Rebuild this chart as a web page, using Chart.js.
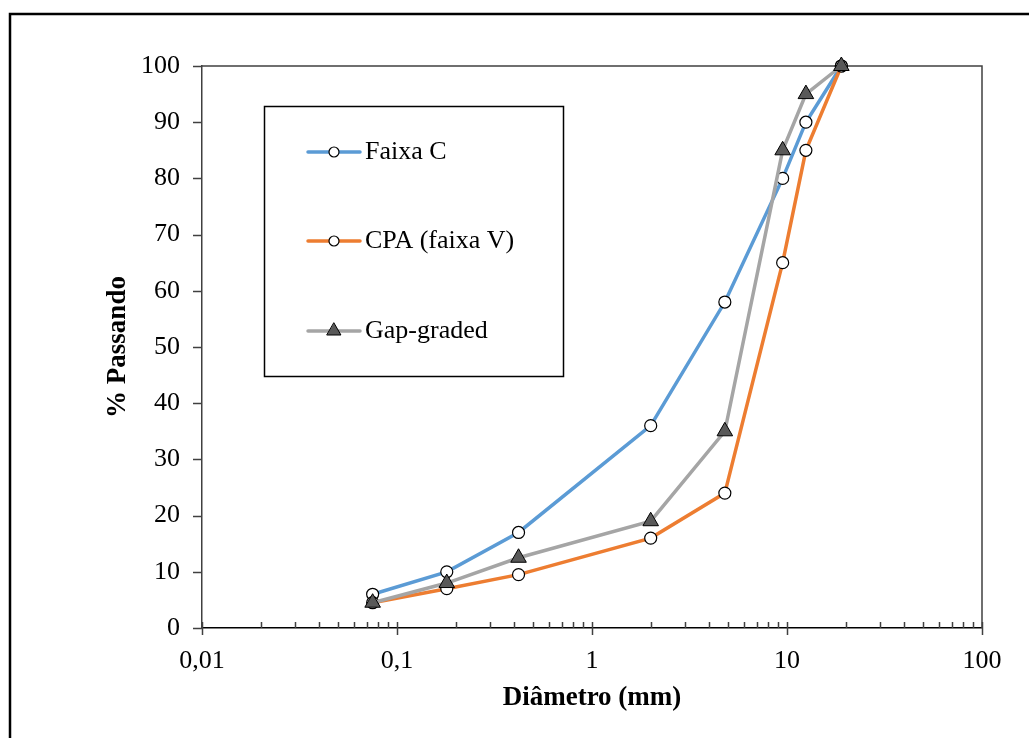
<!DOCTYPE html>
<html>
<head>
<meta charset="utf-8">
<script src="https://cdn.jsdelivr.net/npm/chart.js@4.4.0/dist/chart.umd.min.js"></script>
<style>
  body { margin: 0; background: #fff; }
  #wrap { width: 1029px; height: 738px; }
</style>
</head>
<body>
<div id="wrap"><canvas id="curva" width="1029" height="738"></canvas></div>
<script>
// sieve openings (mm) and % passing
const sieveSizes = [0.075, 0.18, 0.42, 2.0, 4.8, 9.5, 12.5, 19];
const faixaC = [6, 10, 17, 36, 58, 80, 90, 100];
const cpaFaixaV = [4.5, 7, 9.5, 16, 24, 65, 85, 100];
const gapGraded = [4.5, 8, 12.5, 19, 35, 85, 95, 100];

const seriesNames = ['Faixa C', 'CPA (faixa V)', 'Gap-graded'];
const xTickValues = [0.01, 0.1, 1, 10, 100];
const xTickLabels = ['0,01', '0,1', '1', '10', '100'];
const yTickValues = [0, 10, 20, 30, 40, 50, 60, 70, 80, 90, 100];

const serif = '"Liberation Serif", "Times New Roman", serif';

function pts(vals) {
	return sieveSizes.map((s, i) => ({ x: s, y: vals[i] }));
}

// axis frame, tick marks and the boxed legend
const frame = {
	id: 'frame',
	beforeDatasetsDraw(chart) {
		const ctx = chart.ctx, a = chart.chartArea;
		const x = chart.scales.x, y = chart.scales.y;
		ctx.save();
		ctx.strokeStyle = '#404040';
		ctx.lineWidth = 1.5;
		ctx.beginPath();
		ctx.moveTo(a.left, a.top);
		ctx.lineTo(a.right, a.top);
		ctx.lineTo(a.right, a.bottom);
		ctx.stroke();

		ctx.beginPath();
		yTickValues.forEach(v => {
			const py = Math.round(y.getPixelForValue(v)) + 0.5;
			ctx.moveTo(a.left - 9, py);
			ctx.lineTo(a.left, py);
		});
		xTickValues.forEach((v, i) => {
			const px = Math.round(x.getPixelForValue(v)) + 0.5;
			ctx.moveTo(px, a.bottom - 6);
			ctx.lineTo(px, a.bottom + 7);
			if (i < xTickValues.length - 1) {
				for (let m = 2; m <= 9; m++) {
					const mx = Math.round(x.getPixelForValue(v * m)) + 0.5;
					ctx.moveTo(mx, a.bottom - 6);
					ctx.lineTo(mx, a.bottom);
				}
			}
		});
		ctx.stroke();
		ctx.restore();
	},
	afterDraw(chart) {
		const ctx = chart.ctx;
		ctx.save();
		// outer chart border
		ctx.strokeStyle = '#000';
		ctx.lineWidth = 2.5;
		ctx.strokeRect(10, 14, 1100, 1000);

		// legend box
		ctx.lineWidth = 1.5;
		ctx.strokeRect(264.5, 106.5, 299, 270);
		const rows = [152, 241, 331];
		ctx.font = '26px ' + serif;
		ctx.textBaseline = 'middle';
		chart.data.datasets.forEach((ds, i) => {
			const ry = rows[i];
			ctx.strokeStyle = ds.borderColor;
			ctx.lineWidth = ds.borderWidth;
			ctx.lineCap = 'round';
			ctx.beginPath();
			ctx.moveTo(308, ry);
			ctx.lineTo(360, ry);
			ctx.stroke();

			ctx.fillStyle = ds.pointBackgroundColor;
			ctx.strokeStyle = ds.pointBorderColor;
			ctx.lineWidth = ds.pointBorderWidth;
			ctx.beginPath();
			if (ds.pointStyle === 'triangle') {
				const r = 8;
				ctx.moveTo(334, ry - r);
				ctx.lineTo(334 + r * Math.sin(Math.PI / 3), ry + r / 2);
				ctx.lineTo(334 - r * Math.sin(Math.PI / 3), ry + r / 2);
				ctx.closePath();
			} else {
				ctx.arc(334, ry, 5, 0, Math.PI * 2);
			}
			ctx.fill();
			ctx.stroke();
			ctx.fillStyle = '#000';
			ctx.fillText(ds.label, 365, ry);
		});
		ctx.restore();
	}
};

const ctx = document.getElementById('curva').getContext('2d');

new Chart(ctx, {
	type: 'line',
	data: {
		datasets: [
			{
				label: seriesNames[0],
				data: pts(faixaC),
				borderColor: '#5B9BD5',
				borderWidth: 3.5,
				pointStyle: 'circle',
				pointRadius: 6,
				pointBackgroundColor: '#fff',
				pointBorderColor: '#000',
				pointBorderWidth: 1.2,
				clip: false,
				order: 2
			},
			{
				label: seriesNames[1],
				data: pts(cpaFaixaV),
				borderColor: '#ED7D31',
				borderWidth: 3.5,
				pointStyle: 'circle',
				pointRadius: 6,
				pointBackgroundColor: '#fff',
				pointBorderColor: '#000',
				pointBorderWidth: 1.2,
				clip: false,
				order: 1
			},
			{
				label: seriesNames[2],
				data: pts(gapGraded),
				borderColor: '#A5A5A5',
				borderWidth: 3.5,
				pointStyle: 'triangle',
				pointRadius: 9,
				pointBackgroundColor: '#595959',
				pointBorderColor: '#000',
				pointBorderWidth: 1,
				clip: false,
				order: 0
			}
		]
	},
	options: {
		responsive: false,
		animation: false,
		layout: { padding: { left: 0, top: 66, right: 47, bottom: 0 } },
		plugins: {
			legend: { display: false },
			tooltip: { enabled: false }
		},
		scales: {
			x: {
				type: 'logarithmic',
				min: 0.01,
				max: 100,
				afterFit: s => { s.height = 110; },
				afterBuildTicks: s => { s.ticks = xTickValues.map(v => ({ value: v })); },
				grid: { display: false },
				border: { display: true, color: '#000', width: 1.5 },
				ticks: {
					autoSkip: false,
					maxRotation: 0,
					padding: 10,
					color: '#000',
					font: { family: serif, size: 26 },
					callback: (v) => {
						const i = xTickValues.indexOf(v);
						return i >= 0 ? xTickLabels[i] : '';
					}
				},
				title: {
					display: true,
					text: 'Diâmetro (mm)',
					color: '#000',
					font: { family: serif, size: 27, weight: 'bold' },
					padding: { top: 0, bottom: 24 }
				}
			},
			y: {
				min: 0,
				max: 100,
				afterFit: s => { s.width = 202; },
				grid: { display: false },
				border: { display: true, color: '#404040', width: 1.5 },
				ticks: {
					stepSize: 10,
					padding: 14,
					color: '#000',
					font: { family: serif, size: 26 }
				},
				title: {
					display: true,
					text: '% Passando',
					color: '#000',
					font: { family: serif, size: 27, weight: 'bold' },
					padding: { top: 102, bottom: 0 }
				}
			}
		}
	},
	plugins: [frame]
});
</script>
</body>
</html>
